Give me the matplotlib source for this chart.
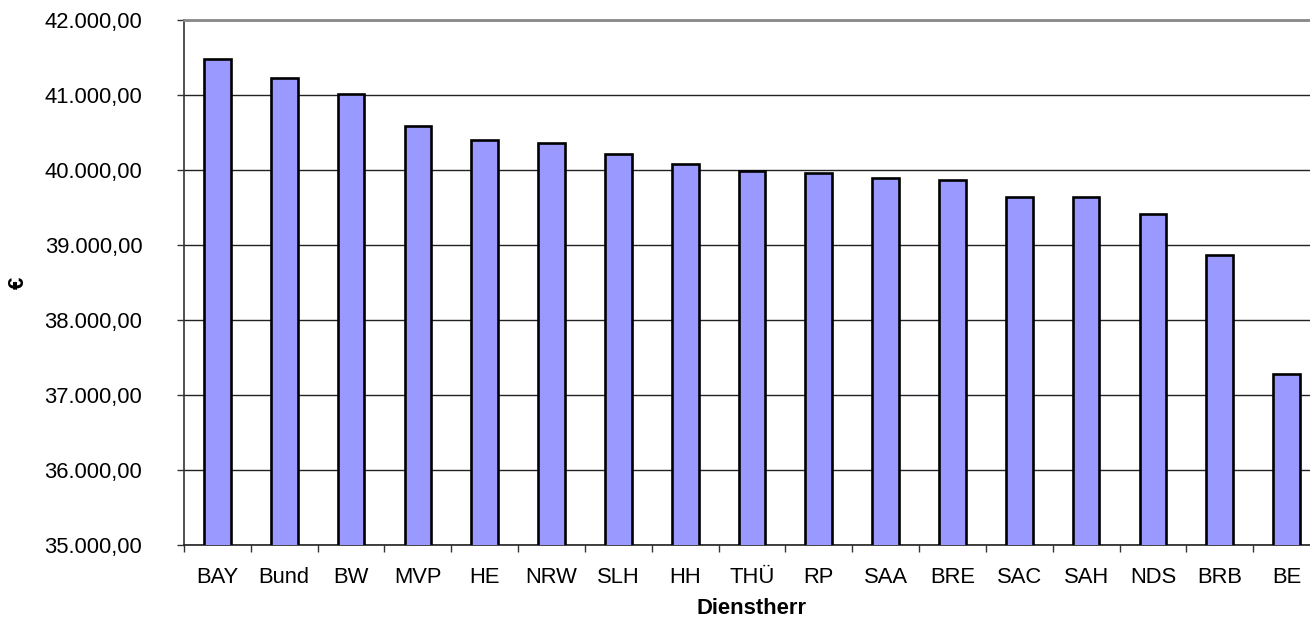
import matplotlib
matplotlib.use("Agg")
import matplotlib.pyplot as plt
from matplotlib.ticker import FuncFormatter, FixedLocator
import numpy as np

plt.rcParams["font.family"] = ["Liberation Sans", "DejaVu Sans"]

# Dienstherr -> annual salary (EUR)
CATEGORIES = ["BAY", "Bund", "BW", "MVP", "HE", "NRW", "SLH", "HH", "THÜ",
              "RP", "SAA", "BRE", "SAC", "SAH", "NDS", "BRB", "BE"]
VALUES = [41475, 41220, 41015, 40583, 40405, 40360, 40218, 40084, 39991,
          39960, 39893, 39867, 39644, 39644, 39417, 38861, 37280]

Y_MIN, Y_MAX, Y_STEP = 35000, 42000, 1000

BAR_COLOR = "#9999FF"
W, H, DPI = 1310, 621, 100
FS = 15.8


def de_fmt(v, _pos=None):
    s = f"{v:,.2f}"
    return s.replace(",", "X").replace(".", ",").replace("X", ".")


def main():
    fig = plt.figure(figsize=(W / DPI, H / DPI), dpi=DPI)
    left, right = 184 / W, 1320 / W
    bottom, top = 1 - 545 / H, 1 - 20 / H
    ax = fig.add_axes([left, bottom, right - left, top - bottom])

    x = np.arange(len(CATEGORIES))
    ax.bar(x, VALUES, width=0.4, color=BAR_COLOR,
           edgecolor="black", linewidth=1.9, zorder=3)

    ax.set_xlim(-0.5, len(CATEGORIES) - 0.5)
    ax.set_ylim(Y_MIN, Y_MAX)
    ax.set_yticks(np.arange(Y_MIN, Y_MAX + 1, Y_STEP))
    ax.yaxis.set_major_formatter(FuncFormatter(de_fmt))
    ax.grid(axis="y", color="#222222", linewidth=1.0, zorder=0)

    # ticks between categories, labels at the centres
    ax.xaxis.set_major_locator(FixedLocator(np.arange(-0.5, len(CATEGORIES), 1.0)))
    ax.xaxis.set_major_formatter(FuncFormatter(lambda v, p: ""))
    ax.set_xticks(x, minor=True)
    ax.set_xticklabels(CATEGORIES, minor=True)
    ax.tick_params(axis="x", which="major", direction="out", length=5,
                   width=1, color="#333333")
    ax.tick_params(axis="x", which="minor", length=0, pad=16, labelsize=FS)
    ax.tick_params(axis="y", direction="out", length=5, width=1,
                   color="#333333", pad=25, labelsize=FS)

    ax.spines["right"].set_visible(False)
    ax.spines["top"].set_color("#888888")
    ax.spines["top"].set_linewidth(2.0)
    ax.spines["left"].set_color("#333333")
    ax.spines["left"].set_linewidth(1.2)
    ax.spines["bottom"].set_color("#222222")
    ax.spines["bottom"].set_linewidth(1.2)

    ax.set_xlabel("Dienstherr", fontweight="bold", fontsize=FS, va="center")
    ax.xaxis.set_label_coords(0.5, (545 - 608) / 525)
    ax.set_ylabel("€", fontweight="bold", fontsize=FS, va="center")
    ax.yaxis.set_label_coords((18 - 184) / 1136, 0.5)

    fig.savefig("out.png", dpi=DPI, facecolor="white")
    plt.close(fig)


if __name__ == "__main__":
    main()
